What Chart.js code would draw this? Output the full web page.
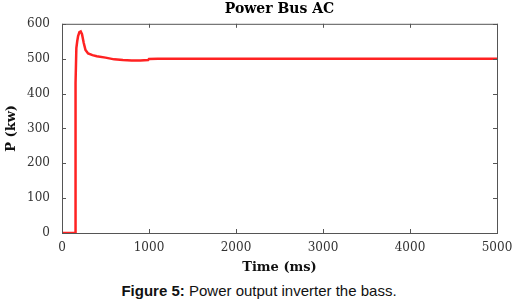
<!DOCTYPE html>
<html>
<head>
<meta charset="utf-8">
<script src="https://cdn.jsdelivr.net/npm/chart.js@4.4.1/dist/chart.umd.min.js"></script>
<style>
  html, body { margin: 0; padding: 0; background: #fff; }
  #wrap { position: relative; width: 518px; height: 303px; }
  #chart { position: absolute; left: 0; top: 0; }
  #caption { position: absolute; left: 0; top: 282px; width: 518px; text-align: center;
             font-family: "Liberation Sans", Arial, sans-serif; font-size: 15px; color: #111; }
</style>
</head>
<body>
<div id="wrap">
  <canvas id="chart" width="518" height="275"></canvas>
  <div id="caption"><b>Figure 5:</b> Power output inverter the bass.</div>
</div>
<script>
// time (ms) and output power (kw)
const timeMs = [0, 150, 152, 155, 160, 165, 175, 185, 200, 215, 230, 250, 270, 300, 350, 400, 500, 600, 700, 800, 900, 990, 1000, 1100, 5000];
const powerKw = [0, 0, 300, 430, 430, 530, 550, 565, 576, 578, 570, 545, 525, 515, 510, 507, 503, 498, 496, 495, 495, 496, 499, 500, 500];
const xTicks = [0, 1000, 2000, 3000, 4000, 5000];
const yTicks = [0, 100, 200, 300, 400, 500, 600];

const points = timeMs.map((t, i) => ({ x: t, y: powerKw[i] }));
const tickFont = { family: '"DejaVu Serif", serif', size: 12 };
const titleFont = { family: '"DejaVu Serif", serif', size: 13, weight: 'bold' };

// box round the plot with inward tick marks on all four sides
const boxTicks = {
  id: 'boxTicks',
  afterDatasetsDraw(chart) {
    const { ctx, chartArea: a, scales } = chart;
    ctx.save();
    ctx.strokeStyle = '#555';
    ctx.lineWidth = 1;
    ctx.strokeRect(a.left + 0.5, a.top + 0.5, a.right - a.left, a.bottom - a.top);
    ctx.beginPath();
    xTicks.forEach(v => {
      const px = Math.round(scales.x.getPixelForValue(v)) + 0.5;
      ctx.moveTo(px, a.bottom); ctx.lineTo(px, a.bottom - 4);
      ctx.moveTo(px, a.top); ctx.lineTo(px, a.top + 4);
    });
    yTicks.forEach(v => {
      const py = Math.round(scales.y.getPixelForValue(v)) + 0.5;
      ctx.moveTo(a.left, py); ctx.lineTo(a.left + 4, py);
      ctx.moveTo(a.right, py); ctx.lineTo(a.right - 4, py);
    });
    ctx.stroke();
    ctx.restore();
  }
};

new Chart(document.getElementById('chart'), {
  type: 'line',
  data: {
    datasets: [{
      data: points,
      borderColor: '#ff2222',
      borderWidth: 2.5,
      pointRadius: 0,
      tension: 0,
      fill: false
    }]
  },
  options: {
    responsive: false,
    animation: false,
    layout: { padding: { left: 4, right: 21, top: 0, bottom: 0 } },
    plugins: {
      legend: { display: false },
      tooltip: { enabled: false },
      title: {
        display: true,
        fullSize: false,
        text: 'Power Bus AC',
        color: '#000',
        font: { family: '"DejaVu Serif", serif', size: 14, weight: 'bold' },
        padding: { top: 1, bottom: 6 }
      }
    },
    scales: {
      x: {
        type: 'linear',
        min: 0, max: 5000,
        afterBuildTicks: s => { s.ticks = xTicks.map(v => ({ value: v })); },
        afterFit: s => { s.height = 42; },
        grid: { display: false },
        border: { display: false },
        ticks: { color: '#333', font: tickFont, padding: 0, maxRotation: 0, callback: v => String(v) },
        title: { display: true, text: 'Time (ms)', color: '#111', font: titleFont, padding: { top: 2, bottom: 0 } }
      },
      y: {
        min: 0, max: 600,
        afterBuildTicks: s => { s.ticks = yTicks.map(v => ({ value: v })); },
        afterFit: s => { s.width = 58; },
        grid: { display: false },
        border: { display: false },
        ticks: { color: '#333', font: tickFont, padding: 4, callback: v => String(v) },
        title: { display: true, text: 'P (kw)', color: '#111', font: titleFont, padding: 0 }
      }
    }
  },
  plugins: [boxTicks]
});
</script>
</body>
</html>
